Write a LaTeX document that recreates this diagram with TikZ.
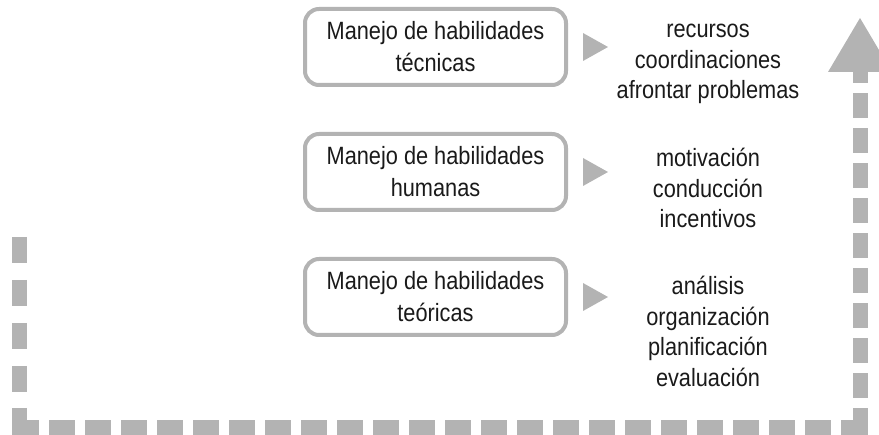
\documentclass[tikz,border=0pt]{standalone}
\usepackage{fontspec}
\setmainfont{Liberation Sans}[FakeStretch=0.87]
\usetikzlibrary{calc}

\definecolor{bargray}{HTML}{B3B3B3}
\definecolor{inkgray}{HTML}{1A1A1A}

\tikzset{
    skillbox/.style={draw=bargray, line width=4pt, rounded corners=14pt, fill=white,
        minimum width=261pt, minimum height=76pt, align=center, text=inkgray,
        font=\fontsize{25pt}{32pt}\selectfont},
    itemlist/.style={anchor=base, align=center, inner sep=0pt, text=inkgray,
        font=\fontsize{25pt}{30.5pt}\selectfont},
    pointer/.style={fill=bargray},
    bar/.style={draw=bargray, line width=15pt},
}

\begin{document}
\begin{tikzpicture}[x=1pt, y=-1pt]
    \useasboundingbox (0,0) rectangle (879,435);

    % skill boxes
    \node[skillbox] (tecnicas) at (435.5,47)  {Manejo de habilidades\\técnicas};
    \node[skillbox] (humanas)  at (435.5,172) {Manejo de habilidades\\humanas};
    \node[skillbox] (teoricas) at (435.5,297) {Manejo de habilidades\\teóricas};

    % what each one covers (placed by the baseline of the last line)
    \node[itemlist] (listTec) at (708,99)    {recursos\\coordinaciones\\afrontar problemas};
    \node[itemlist] (listHum) at (708,228)   {motivación\\conducción\\incentivos};
    \node[itemlist] (listTeo) at (708,386.5) {análisis\\organización\\planificación\\evaluación};

    \foreach \skill in {tecnicas,humanas,teoricas} {
        \fill[pointer] ($(\skill.east)+(15,-14)$) -- ++(25,14) -- ++(-25,14) -- cycle;
    }

    % dashed frame with arrow
    \coordinate (leftTop) at (19,237);
    \coordinate (leftEnd) at (19,392);
    \coordinate (cornerL) at (19,427.5);
    \coordinate (cornerR) at (860,427.5);
    \coordinate (arrowBase) at (860,72);

    \begin{scope}
        \clip (0,0) rectangle (879,435);
        \draw[bar, dash pattern=on 26pt off 17pt] (leftTop) -- (leftEnd);
        \draw[bar, line join=miter] (19,408) -- (cornerL) -- (39,427.5);
        \draw[bar, dash pattern=on 26pt off 10pt] (49,427.5) -- (831,427.5);
        \draw[bar, line join=miter] (841,427.5) -- (cornerR) -- (860,408);
        \draw[bar, dash pattern=on 25pt off 10pt] (860,398) -- (arrowBase);
        \fill[pointer] ($(arrowBase)+(-32,0)$) -- ($(arrowBase)+(32,0)$) -- (860,18) -- cycle;
    \end{scope}
\end{tikzpicture}
\end{document}
